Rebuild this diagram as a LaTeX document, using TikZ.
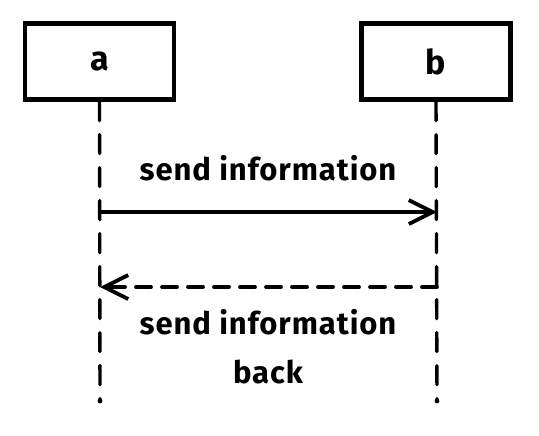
\documentclass[tikz,border=0pt]{standalone}
\usepackage{fontspec}
\setmainfont{Fira Sans}[LetterSpace=3]
\usetikzlibrary{arrows.meta}
\tikzset{
  actor/.style={draw,line width=2.1pt,minimum width=74.5pt,minimum height=38pt,inner sep=0pt,font=\fontsize{17}{20}\selectfont\bfseries},
  lifeline/.style={line width=1.7pt,dash pattern=on 9.5pt off 7pt,line cap=round},
  msg/.style={line width=1.9pt,line cap=round,-{Straight Barb[length=12pt,width=12pt,line width=1.9pt]}},
  msglabel/.style={font=\fontsize{15.5}{18}\selectfont\bfseries}
}
\begin{document}
\begin{tikzpicture}[x=0.5pt,y=-0.5pt]
    \useasboundingbox (0,0) rectangle (539,435);
    \node[actor] (a) at (99.5,61.5) {a};
    \node[actor] (b) at (436,61.5) {b};
    \coordinate (aend) at (100,401);
    \coordinate (bend) at (437,401);
    \draw[lifeline] (a.south) -- (aend);
    \draw[lifeline] (b.south) -- (bend);
    \fill (aend) circle (1.2pt);
    \fill (bend) circle (1.2pt);
    \coordinate (a1) at (100,212);
    \coordinate (b1) at (437,212);
    \coordinate (a2) at (100,287);
    \coordinate (b2) at (437,287);
    \draw[msg] (a1) -- (b1);
    \draw[msg,dash pattern=on 7.5pt off 5.5pt] (b2) -- (a2);
    \node[msglabel] (l1) at (268,168) {send information};
    \node[msglabel] (l2) at (268,322) {send information};
    \node[msglabel] (l3) at (268,372) {back};
\end{tikzpicture}
\end{document}
